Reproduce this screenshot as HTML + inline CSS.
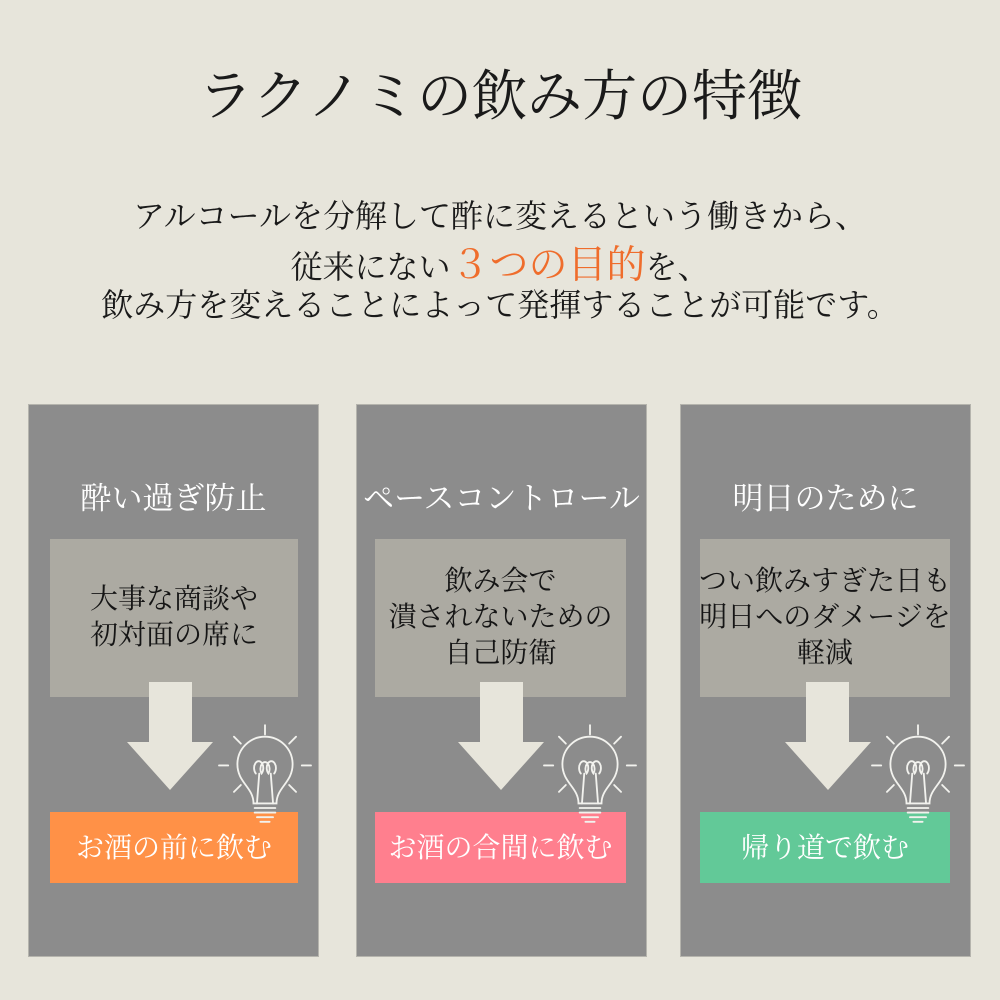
<!DOCTYPE html>
<html><head><meta charset="utf-8"><style>
body{margin:0;width:1000px;height:1000px;background:#e7e5db;position:relative;overflow:hidden;font-family:"Liberation Serif","Noto Serif CJK JP","Noto Serif CJK SC",serif;}
.a{position:absolute;}
.t{position:absolute;left:0;width:1000px;text-align:center;color:#1a1a1a;white-space:nowrap;}
.p{position:absolute;top:404px;width:291px;height:553px;background:#8c8c8c;border:1px solid #b5b4ad;box-sizing:border-box;}
.h{position:absolute;top:479px;width:291px;text-align:center;color:#fff;font-size:31px;line-height:40px;white-space:nowrap;}
.ib{position:absolute;top:539px;height:158px;background:#acaaa2;color:#151515;font-size:28px;line-height:36px;text-align:center;display:flex;align-items:center;justify-content:center;white-space:nowrap;}
.bb{position:absolute;top:812px;height:71px;color:#fff;font-size:28px;line-height:73px;text-align:center;white-space:nowrap;}
</style></head><body>
<div class="t" style="top:62px;font-size:55px;line-height:70px;">ラクノミの飲み方の特徴</div>
<div class="t" style="top:196px;font-size:32px;line-height:40px;">アルコールを分解して酢に変えるという働きから、</div>
<div class="t" style="top:243px;font-size:32px;line-height:46px;">従来にない<span style="color:#ef6d2c;font-size:39px;">３つの目的</span>を、</div>
<div class="t" style="top:285px;font-size:32px;line-height:40px;">飲み方を変えることによって発揮することが可能です。</div>

<div class="p" style="left:28px"></div>
<div class="p" style="left:356px"></div>
<div class="p" style="left:680px"></div>

<div class="h" style="left:28px">酔い過ぎ防止</div>
<div class="h" style="left:356px">ペースコントロール</div>
<div class="h" style="left:680px">明日のために</div>

<div class="ib" style="left:50px;width:248px">大事な商談や<br>初対面の席に</div>
<div class="ib" style="left:375px;width:251px">飲み会で<br>潰されないための<br>自己防衛</div>
<div class="ib" style="left:700px;width:250px">つい飲みすぎた日も<br>明日へのダメージを<br>軽減</div>

<svg class="a" style="left:0;top:0" width="1000" height="1000">
<g fill="#e7e5db">
<polygon points="149,682 192,682 192,742 213,742 170,790 127,742 149,742"/>
<polygon points="480,682 523,682 523,742 544,742 501,790 458,742 480,742"/>
<polygon points="806,682 849,682 849,742 871,742 828,790 785,742 806,742"/>
</g>
</svg>

<div class="bb" style="left:50px;width:248px;background:#ff9147">お酒の前に飲む</div>
<div class="bb" style="left:375px;width:251px;background:#ff7f8e">お酒の合間に飲む</div>
<div class="bb" style="left:700px;width:250px;background:#62c998">帰り道で飲む</div>

<svg class="a" style="left:0;top:0" width="1000" height="1000">
<defs>
<g id="bulb" fill="none" stroke="#f2f2ee" stroke-width="1.6" stroke-linecap="round">
<line x1="0" y1="-32" x2="0" y2="-24"/>
<line x1="-27" y1="-22" x2="-21" y2="-16"/>
<line x1="27" y1="-22" x2="21" y2="-16"/>
<line x1="-40" y1="3" x2="-32" y2="3"/>
<line x1="40" y1="3" x2="32" y2="3"/>
<line x1="-27" y1="26" x2="-21" y2="20"/>
<line x1="27" y1="26" x2="21" y2="20"/>
<path d="M-10,36 C-10,22 -24,18 -24,2 A24,24 0 1 1 24,2 C24,18 10,22 10,36 Z"/>
<path d="M-7,36 L-5,10 M7,36 L5,10"/>
<path d="M-8,10 a4,6 0 1 1 5,0 a4,6 0 1 1 6,0 a4,6 0 1 1 5,0"/>
<path d="M-9,40 H9 M-9,44 H9 M-7,48 H7 M-4,52 H4"/>
</g>
</defs>
<use href="#bulb" transform="translate(265,762) scale(1.15)"/>
<use href="#bulb" transform="translate(590,762) scale(1.15)"/>
<use href="#bulb" transform="translate(918,762) scale(1.15)"/>
</svg>
</body></html>
